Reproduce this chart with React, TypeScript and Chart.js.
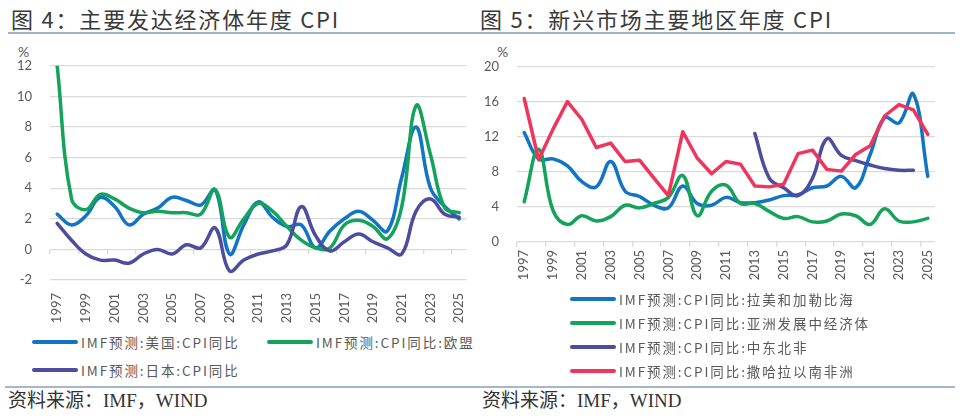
import React, { useEffect, useRef } from "react";
import { Chart, registerables } from "chart.js";

Chart.register(...registerables);

// ---------- data ----------
const years: string[] = [
  "1997", "1998", "1999", "2000", "2001", "2002", "2003", "2004", "2005", "2006",
  "2007", "2008", "2009", "2010", "2011", "2012", "2013", "2014", "2015", "2016",
  "2017", "2018", "2019", "2020", "2021", "2022", "2023", "2024", "2025",
];

// Figure 4 – advanced economies
const usCPI = [2.3, 1.6, 2.2, 3.4, 2.8, 1.6, 2.3, 2.7, 3.4, 3.2, 2.9, 3.9, -0.3, 1.6, 3.1, 2.1, 1.5, 1.6, 0.1, 1.2, 2.0, 2.5, 1.9, 1.2, 4.7, 8.0, 4.0, 2.8, 2.0];
const euCPI = [12.0, 3.3, 2.6, 3.6, 3.3, 2.7, 2.4, 2.5, 2.4, 2.4, 2.3, 3.9, 0.8, 2.0, 3.0, 2.5, 1.5, 0.6, 0.1, 0.1, 1.6, 1.9, 1.5, 0.7, 2.8, 9.4, 6.2, 2.7, 2.4];
const jpCPI = [1.7, 0.6, -0.3, -0.7, -0.7, -0.9, -0.3, 0.0, -0.3, 0.3, 0.1, 1.4, -1.4, -0.7, -0.3, -0.1, 0.3, 2.8, 0.9, -0.1, 0.5, 1.0, 0.5, 0.1, -0.3, 2.5, 3.3, 2.3, 2.1];

// Figure 5 – emerging regions
const latamCPI = [12.5, 9.5, 9.5, 8.7, 6.9, 6.3, 9.2, 5.8, 5.2, 4.2, 3.9, 6.4, 4.4, 4.2, 5.1, 4.5, 4.5, 4.8, 5.3, 5.4, 6.2, 6.4, 7.5, 6.2, 10.0, 14.2, 13.6, 16.9, 7.5];
const asiaCPI = [4.6, 10.6, 3.6, 2.0, 3.0, 2.4, 2.9, 4.2, 3.9, 4.4, 5.1, 7.6, 3.0, 5.8, 6.5, 4.4, 4.4, 3.5, 2.7, 2.9, 2.3, 2.4, 3.2, 3.0, 2.0, 3.8, 2.4, 2.3, 2.7];
const menaCPI: (number | null)[] = [null, null, null, null, null, null, null, null, null, null, null, null, null, null, null, null, 12.4, 7.3, 6.2, 5.3, 7.3, 11.8, 9.9, 9.3, 8.8, 8.4, 8.2, 8.2, null];
const ssaCPI = [16.4, 9.4, 12.9, 16.05, 14.0, 10.8, 11.3, 9.2, 9.35, 7.3, 5.3, 12.6, 9.6, 7.8, 9.2, 8.9, 6.4, 6.3, 6.6, 10.1, 10.5, 8.3, 8.1, 10.0, 11.0, 14.4, 15.7, 15.1, 12.3];

const leftTicks = { min: -2, max: 12, step: 2 };
const rightTicks = { min: 0, max: 20, step: 4 };

const leftSeries = [
  { label: "IMF预测:美国:CPI同比", data: usCPI, color: "#1174c4", tension: 0.4 },
  { label: "IMF预测:CPI同比:欧盟", data: euCPI, color: "#14a35a", tension: 0.4 },
  { label: "IMF预测:日本:CPI同比", data: jpCPI, color: "#4d4c9f", tension: 0.4 },
];
const rightSeries = [
  { label: "IMF预测:CPI同比:拉美和加勒比海", data: latamCPI, color: "#1174c4", tension: 0.4 },
  { label: "IMF预测:CPI同比:亚洲发展中经济体", data: asiaCPI, color: "#14a35a", tension: 0.4 },
  { label: "IMF预测:CPI同比:中东北非", data: menaCPI, color: "#4d4c9f", tension: 0.4 },
  { label: "IMF预测:CPI同比:撒哈拉以南非洲", data: ssaCPI, color: "#f0355c", tension: 0 },
];

const GRID = "#d9d9d9";
const TICK = "#595959";
const CJK = '"Noto Sans CJK SC", "Noto Sans", sans-serif';

type Series = { label: string; data: (number | null)[]; color: string; tension: number };

function makeDatasets(series: Series[]) {
  return series.map((s, i) => ({
    label: s.label,
    data: s.data,
    borderColor: s.color,
    backgroundColor: s.color,
    borderWidth: 3.5,
    pointRadius: 0,
    tension: s.tension,
    borderJoinStyle: "round" as const,
    borderCapStyle: "round" as const,
    fill: false,
    order: series.length - i,
  }));
}

function LineChart(props: {
  series: Series[];
  ticks: { min: number; max: number; step: number };
  width: number;
  height: number;
  padTop: number;
  padRight: number;
  yWidth: number;
  xHeight: number;
  zeroAxis: boolean;
}) {
  const ref = useRef<HTMLCanvasElement | null>(null);
  useEffect(() => {
    if (!ref.current) return;
    const tickColor = (ctx: any) => (ctx.index % 2 === 0 ? GRID : "rgba(0,0,0,0)");
    const scales: any = {
      y: {
        min: props.ticks.min,
        max: props.ticks.max,
        ticks: {
          stepSize: props.ticks.step,
          color: TICK,
          font: { family: "Lato", size: 13 },
          padding: 18,
        },
        grid: { color: GRID, lineWidth: 1.3, drawTicks: false },
        border: { display: false },
        afterFit: (s: any) => {
          s.width = props.yWidth;
        },
      },
      x: {
        type: "category",
        offset: true,
        ticks: {
          autoSkip: false,
          maxRotation: 90,
          minRotation: 90,
          padding: props.zeroAxis ? 5 : 3,
          color: TICK,
          font: { family: "Lato", size: 13 },
          callback: (_v: any, i: number) => (i % 2 === 0 ? years[i] : ""),
        },
        grid: props.zeroAxis
          ? { display: false }
          : { offset: true, drawOnChartArea: false, drawTicks: true, tickLength: 5, color: tickColor, lineWidth: 1.3 },
        border: { display: false },
        afterFit: (s: any) => {
          s.height = props.xHeight;
        },
      },
    };
    if (props.zeroAxis) {
      scales.x0 = {
        type: "category",
        axis: "x",
        position: { y: 0 },
        offset: true,
        ticks: { display: false },
        grid: { offset: true, drawOnChartArea: false, drawTicks: true, tickLength: 5, color: tickColor, lineWidth: 1.3 },
        border: { display: false },
        afterFit: (s: any) => {
          s.height = 0;
        },
      };
    }
    const chart = new Chart(ref.current, {
      type: "line",
      data: { labels: years, datasets: makeDatasets(props.series) as any },
      options: {
        animation: false,
        responsive: true,
        maintainAspectRatio: false,
        layout: { padding: { top: props.padTop, right: props.padRight, left: 0, bottom: 0 } },
        plugins: { legend: { display: false }, tooltip: { enabled: false }, title: { display: false } },
        scales,
      },
    });
    return () => chart.destroy();
  }, []);
  return (
    <div style={{ position: "relative", width: props.width, height: props.height }}>
      <canvas ref={ref} />
    </div>
  );
}

function LegendItem(props: { x: number; y: number; color: string; text: string }) {
  return (
    <div style={{ position: "absolute", left: props.x, top: props.y - 10, height: 20, display: "flex", alignItems: "center", whiteSpace: "nowrap" }}>
      <div style={{ width: 46, height: 4, borderRadius: 2, background: props.color }} />
      <span style={{ marginLeft: 3, font: `13.5px ${CJK}`, letterSpacing: "1.9px", color: TICK, lineHeight: "20px" }}>{props.text}</span>
    </div>
  );
}

const abs = (l: number, t: number): React.CSSProperties => ({ position: "absolute", left: l, top: t });

export default function App() {
  const titleStyle: React.CSSProperties = { font: `22px ${CJK}`, letterSpacing: "1.8px", color: "#3a3a3a", lineHeight: "26px", whiteSpace: "nowrap" };
  const srcStyle: React.CSSProperties = { font: `19px "Liberation Serif", ${CJK}`, color: "#333", lineHeight: "22px", whiteSpace: "nowrap" };
  const pct: React.CSSProperties = { font: "14px Lato", color: TICK, lineHeight: "16px" };
  return (
    <div style={{ position: "absolute", left: 0, top: 0, width: 960, height: 419, background: "#fff", overflow: "hidden" }}>
      <div style={{ ...abs(11, 5), ...titleStyle }}>图 4：主要发达经济体年度 CPI</div>
      <div style={{ ...abs(480, 5), ...titleStyle }}>图 5：新兴市场主要地区年度 CPI</div>
      <div style={{ ...abs(8, 32), width: 947, height: 2, background: "#9fb4cc" }} />

      <div style={{ ...abs(18, 44), ...pct }}>%</div>
      <div style={{ ...abs(497, 44), ...pct }}>%</div>

      <div style={abs(0, 40)}>
        <LineChart series={leftSeries} ticks={leftTicks} width={480} height={290} padTop={25} padRight={13} yWidth={50} xHeight={50} zeroAxis={true} />
      </div>
      <div style={abs(470, 40)}>
        <LineChart series={rightSeries} ticks={rightTicks} width={490} height={250} padTop={27} padRight={25} yWidth={47} xHeight={48} zeroAxis={false} />
      </div>

      <LegendItem x={32} y={342} color={leftSeries[0].color} text={leftSeries[0].label} />
      <LegendItem x={267} y={342} color={leftSeries[1].color} text={leftSeries[1].label} />
      <LegendItem x={32} y={370} color={leftSeries[2].color} text={leftSeries[2].label} />

      {rightSeries.map((s, i) => (
        <LegendItem key={i} x={570} y={299 + i * 24} color={s.color} text={s.label} />
      ))}

      <div style={{ ...abs(5, 386), width: 950, height: 2, background: "#a6b7ca" }} />
      <div style={{ ...abs(8, 390), ...srcStyle }}>资料来源：IMF，WIND</div>
      <div style={{ ...abs(482, 390), ...srcStyle }}>资料来源：IMF，WIND</div>
    </div>
  );
}
